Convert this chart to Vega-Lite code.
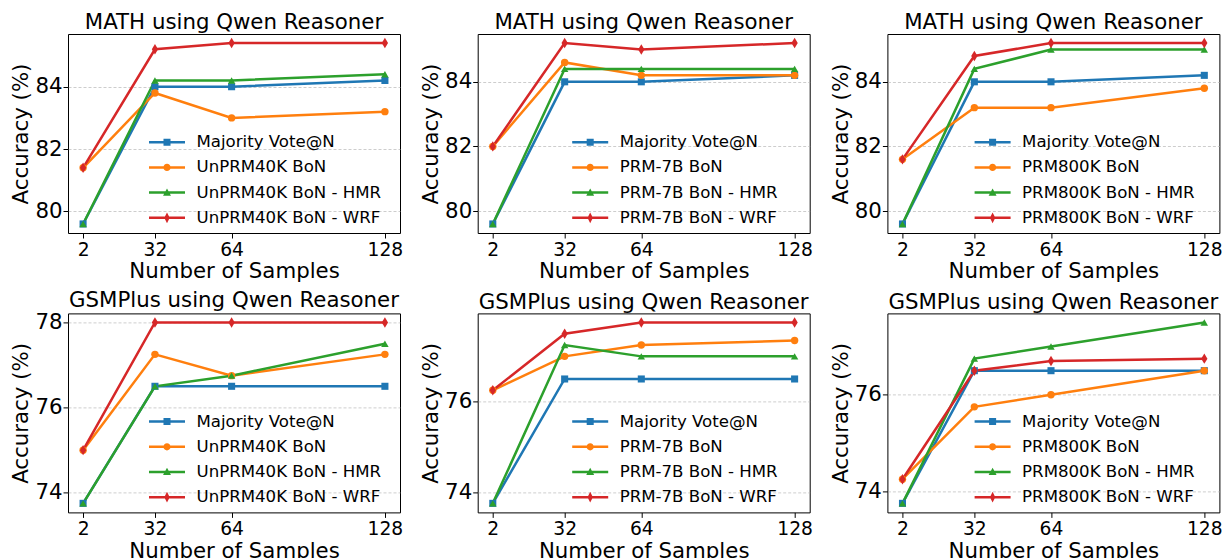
{
  "$schema": "https://vega.github.io/schema/vega-lite/v6.json",
  "background": "white",
  "padding": {"left": 10, "top": 11, "right": 0, "bottom": 0},
  "columns": 3,
  "bounds": "flush",
  "align": "all",
  "spacing": {"row": 80.4, "column": 77.7},
  "data": {"values": [
    {"p":1,"k":0,"s":"Majority Vote@N","n":2,"v":79.6},{"p":1,"k":0,"s":"Majority Vote@N","n":32,"v":84.0},{"p":1,"k":0,"s":"Majority Vote@N","n":64,"v":84.0},{"p":1,"k":0,"s":"Majority Vote@N","n":128,"v":84.2},
    {"p":1,"k":1,"s":"UnPRM40K BoN","n":2,"v":81.4},{"p":1,"k":1,"s":"UnPRM40K BoN","n":32,"v":83.8},{"p":1,"k":1,"s":"UnPRM40K BoN","n":64,"v":83.0},{"p":1,"k":1,"s":"UnPRM40K BoN","n":128,"v":83.2},
    {"p":1,"k":2,"s":"UnPRM40K BoN - HMR","n":2,"v":79.6},{"p":1,"k":2,"s":"UnPRM40K BoN - HMR","n":32,"v":84.2},{"p":1,"k":2,"s":"UnPRM40K BoN - HMR","n":64,"v":84.2},{"p":1,"k":2,"s":"UnPRM40K BoN - HMR","n":128,"v":84.4},
    {"p":1,"k":3,"s":"UnPRM40K BoN - WRF","n":2,"v":81.4},{"p":1,"k":3,"s":"UnPRM40K BoN - WRF","n":32,"v":85.2},{"p":1,"k":3,"s":"UnPRM40K BoN - WRF","n":64,"v":85.4},{"p":1,"k":3,"s":"UnPRM40K BoN - WRF","n":128,"v":85.4},

    {"p":2,"k":0,"s":"Majority Vote@N","n":2,"v":79.6},{"p":2,"k":0,"s":"Majority Vote@N","n":32,"v":84.0},{"p":2,"k":0,"s":"Majority Vote@N","n":64,"v":84.0},{"p":2,"k":0,"s":"Majority Vote@N","n":128,"v":84.2},
    {"p":2,"k":1,"s":"PRM-7B BoN","n":2,"v":82.0},{"p":2,"k":1,"s":"PRM-7B BoN","n":32,"v":84.6},{"p":2,"k":1,"s":"PRM-7B BoN","n":64,"v":84.2},{"p":2,"k":1,"s":"PRM-7B BoN","n":128,"v":84.2},
    {"p":2,"k":2,"s":"PRM-7B BoN - HMR","n":2,"v":79.6},{"p":2,"k":2,"s":"PRM-7B BoN - HMR","n":32,"v":84.4},{"p":2,"k":2,"s":"PRM-7B BoN - HMR","n":64,"v":84.4},{"p":2,"k":2,"s":"PRM-7B BoN - HMR","n":128,"v":84.4},
    {"p":2,"k":3,"s":"PRM-7B BoN - WRF","n":2,"v":82.0},{"p":2,"k":3,"s":"PRM-7B BoN - WRF","n":32,"v":85.2},{"p":2,"k":3,"s":"PRM-7B BoN - WRF","n":64,"v":85.0},{"p":2,"k":3,"s":"PRM-7B BoN - WRF","n":128,"v":85.2},

    {"p":3,"k":0,"s":"Majority Vote@N","n":2,"v":79.6},{"p":3,"k":0,"s":"Majority Vote@N","n":32,"v":84.0},{"p":3,"k":0,"s":"Majority Vote@N","n":64,"v":84.0},{"p":3,"k":0,"s":"Majority Vote@N","n":128,"v":84.2},
    {"p":3,"k":1,"s":"PRM800K BoN","n":2,"v":81.6},{"p":3,"k":1,"s":"PRM800K BoN","n":32,"v":83.2},{"p":3,"k":1,"s":"PRM800K BoN","n":64,"v":83.2},{"p":3,"k":1,"s":"PRM800K BoN","n":128,"v":83.8},
    {"p":3,"k":2,"s":"PRM800K BoN - HMR","n":2,"v":79.6},{"p":3,"k":2,"s":"PRM800K BoN - HMR","n":32,"v":84.4},{"p":3,"k":2,"s":"PRM800K BoN - HMR","n":64,"v":85.0},{"p":3,"k":2,"s":"PRM800K BoN - HMR","n":128,"v":85.0},
    {"p":3,"k":3,"s":"PRM800K BoN - WRF","n":2,"v":81.6},{"p":3,"k":3,"s":"PRM800K BoN - WRF","n":32,"v":84.8},{"p":3,"k":3,"s":"PRM800K BoN - WRF","n":64,"v":85.2},{"p":3,"k":3,"s":"PRM800K BoN - WRF","n":128,"v":85.2},

    {"p":4,"k":0,"s":"Majority Vote@N","n":2,"v":73.75},{"p":4,"k":0,"s":"Majority Vote@N","n":32,"v":76.5},{"p":4,"k":0,"s":"Majority Vote@N","n":64,"v":76.5},{"p":4,"k":0,"s":"Majority Vote@N","n":128,"v":76.5},
    {"p":4,"k":1,"s":"UnPRM40K BoN","n":2,"v":75.0},{"p":4,"k":1,"s":"UnPRM40K BoN","n":32,"v":77.25},{"p":4,"k":1,"s":"UnPRM40K BoN","n":64,"v":76.75},{"p":4,"k":1,"s":"UnPRM40K BoN","n":128,"v":77.25},
    {"p":4,"k":2,"s":"UnPRM40K BoN - HMR","n":2,"v":73.75},{"p":4,"k":2,"s":"UnPRM40K BoN - HMR","n":32,"v":76.5},{"p":4,"k":2,"s":"UnPRM40K BoN - HMR","n":64,"v":76.75},{"p":4,"k":2,"s":"UnPRM40K BoN - HMR","n":128,"v":77.5},
    {"p":4,"k":3,"s":"UnPRM40K BoN - WRF","n":2,"v":75.0},{"p":4,"k":3,"s":"UnPRM40K BoN - WRF","n":32,"v":78.0},{"p":4,"k":3,"s":"UnPRM40K BoN - WRF","n":64,"v":78.0},{"p":4,"k":3,"s":"UnPRM40K BoN - WRF","n":128,"v":78.0},

    {"p":5,"k":0,"s":"Majority Vote@N","n":2,"v":73.75},{"p":5,"k":0,"s":"Majority Vote@N","n":32,"v":76.5},{"p":5,"k":0,"s":"Majority Vote@N","n":64,"v":76.5},{"p":5,"k":0,"s":"Majority Vote@N","n":128,"v":76.5},
    {"p":5,"k":1,"s":"PRM-7B BoN","n":2,"v":76.25},{"p":5,"k":1,"s":"PRM-7B BoN","n":32,"v":77.0},{"p":5,"k":1,"s":"PRM-7B BoN","n":64,"v":77.25},{"p":5,"k":1,"s":"PRM-7B BoN","n":128,"v":77.35},
    {"p":5,"k":2,"s":"PRM-7B BoN - HMR","n":2,"v":73.75},{"p":5,"k":2,"s":"PRM-7B BoN - HMR","n":32,"v":77.25},{"p":5,"k":2,"s":"PRM-7B BoN - HMR","n":64,"v":77.0},{"p":5,"k":2,"s":"PRM-7B BoN - HMR","n":128,"v":77.0},
    {"p":5,"k":3,"s":"PRM-7B BoN - WRF","n":2,"v":76.25},{"p":5,"k":3,"s":"PRM-7B BoN - WRF","n":32,"v":77.5},{"p":5,"k":3,"s":"PRM-7B BoN - WRF","n":64,"v":77.75},{"p":5,"k":3,"s":"PRM-7B BoN - WRF","n":128,"v":77.75},

    {"p":6,"k":0,"s":"Majority Vote@N","n":2,"v":73.75},{"p":6,"k":0,"s":"Majority Vote@N","n":32,"v":76.5},{"p":6,"k":0,"s":"Majority Vote@N","n":64,"v":76.5},{"p":6,"k":0,"s":"Majority Vote@N","n":128,"v":76.5},
    {"p":6,"k":1,"s":"PRM800K BoN","n":2,"v":74.25},{"p":6,"k":1,"s":"PRM800K BoN","n":32,"v":75.75},{"p":6,"k":1,"s":"PRM800K BoN","n":64,"v":76.0},{"p":6,"k":1,"s":"PRM800K BoN","n":128,"v":76.5},
    {"p":6,"k":2,"s":"PRM800K BoN - HMR","n":2,"v":73.75},{"p":6,"k":2,"s":"PRM800K BoN - HMR","n":32,"v":76.75},{"p":6,"k":2,"s":"PRM800K BoN - HMR","n":64,"v":77.0},{"p":6,"k":2,"s":"PRM800K BoN - HMR","n":128,"v":77.5},
    {"p":6,"k":3,"s":"PRM800K BoN - WRF","n":2,"v":74.25},{"p":6,"k":3,"s":"PRM800K BoN - WRF","n":32,"v":76.5},{"p":6,"k":3,"s":"PRM800K BoN - WRF","n":64,"v":76.7},{"p":6,"k":3,"s":"PRM800K BoN - WRF","n":128,"v":76.75}
  ]},
  "concat": [
    {
      "title": "MATH using Qwen Reasoner",
      "width": 332, "height": 199,
      "transform": [{"filter": "datum.p == 1"}],
      "encoding": {
        "x": {"field": "n", "type": "quantitative", "scale": {"domain": [-4.3, 134.3], "nice": false, "zero": false}, "axis": {"values": [2, 32, 64, 128], "title": "Number of Samples", "grid": false}},
        "y": {"field": "v", "type": "quantitative", "scale": {"domain": [79.31, 85.69], "nice": false, "zero": false}, "axis": {"values": [80, 82, 84], "title": "Accuracy (%)"}},
        "color": {"field": "s", "type": "nominal", "scale": {"domain": ["Majority Vote@N", "UnPRM40K BoN", "UnPRM40K BoN - HMR", "UnPRM40K BoN - WRF"], "range": ["#1f77b4", "#ff7f0e", "#2ca02c", "#d62728"]}, "legend": {"legendX": 84, "legendY": 93.2}}
      },
      "layer": [
        {"mark": {"type": "line", "strokeWidth": 2.5}},
        {"transform": [{"filter": "datum.k == 0"}], "mark": {"type": "point", "filled": true, "opacity": 1, "size": 50, "shape": "square"}},
        {"transform": [{"filter": "datum.k == 1"}], "mark": {"type": "point", "filled": true, "opacity": 1, "size": 55, "shape": "circle"}},
        {"transform": [{"filter": "datum.k == 2"}], "mark": {"type": "point", "filled": true, "opacity": 1, "size": 55, "shape": "triangle-up"}},
        {"transform": [{"filter": "datum.k == 3"}], "mark": {"type": "point", "filled": true, "opacity": 1, "size": 55, "shape": "M0,-1.4L0.85,0L0,1.4L-0.85,0Z"}},
        {"mark": {"type": "point", "filled": true, "opacity": 0},
         "encoding": {"shape": {"field": "s", "type": "nominal", "scale": {"domain": ["Majority Vote@N", "UnPRM40K BoN", "UnPRM40K BoN - HMR", "UnPRM40K BoN - WRF"], "range": ["M-1.2,-0.084H1.2V0.084H-1.2ZM-0.234,-0.234H0.234V0.234H-0.234Z", "M-1.2,-0.084H1.2V0.084H-1.2ZM0.24,0A0.24,0.24,0,1,1,-0.24,0A0.24,0.24,0,1,1,0.24,0Z", "M-1.2,-0.084H1.2V0.084H-1.2ZM0,-0.276L0.264,0.204H-0.264Z", "M-1.2,-0.084H1.2V0.084H-1.2ZM0,-0.36L0.18,0L0,0.36L-0.18,0Z"]}}}}
      ]
    },
    {
      "title": "MATH using Qwen Reasoner",
      "width": 332, "height": 199,
      "transform": [{"filter": "datum.p == 2"}],
      "encoding": {
        "x": {"field": "n", "type": "quantitative", "scale": {"domain": [-4.3, 134.3], "nice": false, "zero": false}, "axis": {"values": [2, 32, 64, 128], "title": "Number of Samples", "grid": false}},
        "y": {"field": "v", "type": "quantitative", "scale": {"domain": [79.32, 85.48], "nice": false, "zero": false}, "axis": {"values": [80, 82, 84], "title": "Accuracy (%)"}},
        "color": {"field": "s", "type": "nominal", "scale": {"domain": ["Majority Vote@N", "PRM-7B BoN", "PRM-7B BoN - HMR", "PRM-7B BoN - WRF"], "range": ["#1f77b4", "#ff7f0e", "#2ca02c", "#d62728"]}, "legend": {"legendX": 97.5, "legendY": 93.2}}
      },
      "layer": [
        {"mark": {"type": "line", "strokeWidth": 2.5}},
        {"transform": [{"filter": "datum.k == 0"}], "mark": {"type": "point", "filled": true, "opacity": 1, "size": 50, "shape": "square"}},
        {"transform": [{"filter": "datum.k == 1"}], "mark": {"type": "point", "filled": true, "opacity": 1, "size": 55, "shape": "circle"}},
        {"transform": [{"filter": "datum.k == 2"}], "mark": {"type": "point", "filled": true, "opacity": 1, "size": 55, "shape": "triangle-up"}},
        {"transform": [{"filter": "datum.k == 3"}], "mark": {"type": "point", "filled": true, "opacity": 1, "size": 55, "shape": "M0,-1.4L0.85,0L0,1.4L-0.85,0Z"}},
        {"mark": {"type": "point", "filled": true, "opacity": 0},
         "encoding": {"shape": {"field": "s", "type": "nominal", "scale": {"domain": ["Majority Vote@N", "PRM-7B BoN", "PRM-7B BoN - HMR", "PRM-7B BoN - WRF"], "range": ["M-1.2,-0.084H1.2V0.084H-1.2ZM-0.234,-0.234H0.234V0.234H-0.234Z", "M-1.2,-0.084H1.2V0.084H-1.2ZM0.24,0A0.24,0.24,0,1,1,-0.24,0A0.24,0.24,0,1,1,0.24,0Z", "M-1.2,-0.084H1.2V0.084H-1.2ZM0,-0.276L0.264,0.204H-0.264Z", "M-1.2,-0.084H1.2V0.084H-1.2ZM0,-0.36L0.18,0L0,0.36L-0.18,0Z"]}}}}
      ]
    },
    {
      "title": "MATH using Qwen Reasoner",
      "width": 332, "height": 199,
      "transform": [{"filter": "datum.p == 3"}],
      "encoding": {
        "x": {"field": "n", "type": "quantitative", "scale": {"domain": [-4.3, 134.3], "nice": false, "zero": false}, "axis": {"values": [2, 32, 64, 128], "title": "Number of Samples", "grid": false}},
        "y": {"field": "v", "type": "quantitative", "scale": {"domain": [79.32, 85.48], "nice": false, "zero": false}, "axis": {"values": [80, 82, 84], "title": "Accuracy (%)"}},
        "color": {"field": "s", "type": "nominal", "scale": {"domain": ["Majority Vote@N", "PRM800K BoN", "PRM800K BoN - HMR", "PRM800K BoN - WRF"], "range": ["#1f77b4", "#ff7f0e", "#2ca02c", "#d62728"]}, "legend": {"legendX": 90.2, "legendY": 93.2}}
      },
      "layer": [
        {"mark": {"type": "line", "strokeWidth": 2.5}},
        {"transform": [{"filter": "datum.k == 0"}], "mark": {"type": "point", "filled": true, "opacity": 1, "size": 50, "shape": "square"}},
        {"transform": [{"filter": "datum.k == 1"}], "mark": {"type": "point", "filled": true, "opacity": 1, "size": 55, "shape": "circle"}},
        {"transform": [{"filter": "datum.k == 2"}], "mark": {"type": "point", "filled": true, "opacity": 1, "size": 55, "shape": "triangle-up"}},
        {"transform": [{"filter": "datum.k == 3"}], "mark": {"type": "point", "filled": true, "opacity": 1, "size": 55, "shape": "M0,-1.4L0.85,0L0,1.4L-0.85,0Z"}},
        {"mark": {"type": "point", "filled": true, "opacity": 0},
         "encoding": {"shape": {"field": "s", "type": "nominal", "scale": {"domain": ["Majority Vote@N", "PRM800K BoN", "PRM800K BoN - HMR", "PRM800K BoN - WRF"], "range": ["M-1.2,-0.084H1.2V0.084H-1.2ZM-0.234,-0.234H0.234V0.234H-0.234Z", "M-1.2,-0.084H1.2V0.084H-1.2ZM0.24,0A0.24,0.24,0,1,1,-0.24,0A0.24,0.24,0,1,1,0.24,0Z", "M-1.2,-0.084H1.2V0.084H-1.2ZM0,-0.276L0.264,0.204H-0.264Z", "M-1.2,-0.084H1.2V0.084H-1.2ZM0,-0.36L0.18,0L0,0.36L-0.18,0Z"]}}}}
      ]
    },
    {
      "title": "GSMPlus using Qwen Reasoner",
      "width": 332, "height": 199,
      "transform": [{"filter": "datum.p == 4"}],
      "encoding": {
        "x": {"field": "n", "type": "quantitative", "scale": {"domain": [-4.3, 134.3], "nice": false, "zero": false}, "axis": {"values": [2, 32, 64, 128], "title": "Number of Samples", "grid": false}},
        "y": {"field": "v", "type": "quantitative", "scale": {"domain": [73.5375, 78.2125], "nice": false, "zero": false}, "axis": {"values": [74, 76, 78], "title": "Accuracy (%)"}},
        "color": {"field": "s", "type": "nominal", "scale": {"domain": ["Majority Vote@N", "UnPRM40K BoN", "UnPRM40K BoN - HMR", "UnPRM40K BoN - WRF"], "range": ["#1f77b4", "#ff7f0e", "#2ca02c", "#d62728"]}, "legend": {"legendX": 84, "legendY": 93.2}}
      },
      "layer": [
        {"mark": {"type": "line", "strokeWidth": 2.5}},
        {"transform": [{"filter": "datum.k == 0"}], "mark": {"type": "point", "filled": true, "opacity": 1, "size": 50, "shape": "square"}},
        {"transform": [{"filter": "datum.k == 1"}], "mark": {"type": "point", "filled": true, "opacity": 1, "size": 55, "shape": "circle"}},
        {"transform": [{"filter": "datum.k == 2"}], "mark": {"type": "point", "filled": true, "opacity": 1, "size": 55, "shape": "triangle-up"}},
        {"transform": [{"filter": "datum.k == 3"}], "mark": {"type": "point", "filled": true, "opacity": 1, "size": 55, "shape": "M0,-1.4L0.85,0L0,1.4L-0.85,0Z"}},
        {"mark": {"type": "point", "filled": true, "opacity": 0},
         "encoding": {"shape": {"field": "s", "type": "nominal", "scale": {"domain": ["Majority Vote@N", "UnPRM40K BoN", "UnPRM40K BoN - HMR", "UnPRM40K BoN - WRF"], "range": ["M-1.2,-0.084H1.2V0.084H-1.2ZM-0.234,-0.234H0.234V0.234H-0.234Z", "M-1.2,-0.084H1.2V0.084H-1.2ZM0.24,0A0.24,0.24,0,1,1,-0.24,0A0.24,0.24,0,1,1,0.24,0Z", "M-1.2,-0.084H1.2V0.084H-1.2ZM0,-0.276L0.264,0.204H-0.264Z", "M-1.2,-0.084H1.2V0.084H-1.2ZM0,-0.36L0.18,0L0,0.36L-0.18,0Z"]}}}}
      ]
    },
    {
      "title": "GSMPlus using Qwen Reasoner",
      "width": 332, "height": 199,
      "transform": [{"filter": "datum.p == 5"}],
      "encoding": {
        "x": {"field": "n", "type": "quantitative", "scale": {"domain": [-4.3, 134.3], "nice": false, "zero": false}, "axis": {"values": [2, 32, 64, 128], "title": "Number of Samples", "grid": false}},
        "y": {"field": "v", "type": "quantitative", "scale": {"domain": [73.55, 77.95], "nice": false, "zero": false}, "axis": {"values": [74, 76], "title": "Accuracy (%)"}},
        "color": {"field": "s", "type": "nominal", "scale": {"domain": ["Majority Vote@N", "PRM-7B BoN", "PRM-7B BoN - HMR", "PRM-7B BoN - WRF"], "range": ["#1f77b4", "#ff7f0e", "#2ca02c", "#d62728"]}, "legend": {"legendX": 97.5, "legendY": 93.2}}
      },
      "layer": [
        {"mark": {"type": "line", "strokeWidth": 2.5}},
        {"transform": [{"filter": "datum.k == 0"}], "mark": {"type": "point", "filled": true, "opacity": 1, "size": 50, "shape": "square"}},
        {"transform": [{"filter": "datum.k == 1"}], "mark": {"type": "point", "filled": true, "opacity": 1, "size": 55, "shape": "circle"}},
        {"transform": [{"filter": "datum.k == 2"}], "mark": {"type": "point", "filled": true, "opacity": 1, "size": 55, "shape": "triangle-up"}},
        {"transform": [{"filter": "datum.k == 3"}], "mark": {"type": "point", "filled": true, "opacity": 1, "size": 55, "shape": "M0,-1.4L0.85,0L0,1.4L-0.85,0Z"}},
        {"mark": {"type": "point", "filled": true, "opacity": 0},
         "encoding": {"shape": {"field": "s", "type": "nominal", "scale": {"domain": ["Majority Vote@N", "PRM-7B BoN", "PRM-7B BoN - HMR", "PRM-7B BoN - WRF"], "range": ["M-1.2,-0.084H1.2V0.084H-1.2ZM-0.234,-0.234H0.234V0.234H-0.234Z", "M-1.2,-0.084H1.2V0.084H-1.2ZM0.24,0A0.24,0.24,0,1,1,-0.24,0A0.24,0.24,0,1,1,0.24,0Z", "M-1.2,-0.084H1.2V0.084H-1.2ZM0,-0.276L0.264,0.204H-0.264Z", "M-1.2,-0.084H1.2V0.084H-1.2ZM0,-0.36L0.18,0L0,0.36L-0.18,0Z"]}}}}
      ]
    },
    {
      "title": "GSMPlus using Qwen Reasoner",
      "width": 332, "height": 199,
      "transform": [{"filter": "datum.p == 6"}],
      "encoding": {
        "x": {"field": "n", "type": "quantitative", "scale": {"domain": [-4.3, 134.3], "nice": false, "zero": false}, "axis": {"values": [2, 32, 64, 128], "title": "Number of Samples", "grid": false}},
        "y": {"field": "v", "type": "quantitative", "scale": {"domain": [73.5625, 77.6875], "nice": false, "zero": false}, "axis": {"values": [74, 76], "title": "Accuracy (%)"}},
        "color": {"field": "s", "type": "nominal", "scale": {"domain": ["Majority Vote@N", "PRM800K BoN", "PRM800K BoN - HMR", "PRM800K BoN - WRF"], "range": ["#1f77b4", "#ff7f0e", "#2ca02c", "#d62728"]}, "legend": {"legendX": 90.2, "legendY": 93.2}}
      },
      "layer": [
        {"mark": {"type": "line", "strokeWidth": 2.5}},
        {"transform": [{"filter": "datum.k == 0"}], "mark": {"type": "point", "filled": true, "opacity": 1, "size": 50, "shape": "square"}},
        {"transform": [{"filter": "datum.k == 1"}], "mark": {"type": "point", "filled": true, "opacity": 1, "size": 55, "shape": "circle"}},
        {"transform": [{"filter": "datum.k == 2"}], "mark": {"type": "point", "filled": true, "opacity": 1, "size": 55, "shape": "triangle-up"}},
        {"transform": [{"filter": "datum.k == 3"}], "mark": {"type": "point", "filled": true, "opacity": 1, "size": 55, "shape": "M0,-1.4L0.85,0L0,1.4L-0.85,0Z"}},
        {"mark": {"type": "point", "filled": true, "opacity": 0},
         "encoding": {"shape": {"field": "s", "type": "nominal", "scale": {"domain": ["Majority Vote@N", "PRM800K BoN", "PRM800K BoN - HMR", "PRM800K BoN - WRF"], "range": ["M-1.2,-0.084H1.2V0.084H-1.2ZM-0.234,-0.234H0.234V0.234H-0.234Z", "M-1.2,-0.084H1.2V0.084H-1.2ZM0.24,0A0.24,0.24,0,1,1,-0.24,0A0.24,0.24,0,1,1,0.24,0Z", "M-1.2,-0.084H1.2V0.084H-1.2ZM0,-0.276L0.264,0.204H-0.264Z", "M-1.2,-0.084H1.2V0.084H-1.2ZM0,-0.36L0.18,0L0,0.36L-0.18,0Z"]}}}}
      ]
    }
  ],
  "resolve": {"scale": {"color": "independent", "shape": "independent", "x": "independent", "y": "independent"}, "legend": {"color": "independent", "shape": "independent"}},
  "config": {
    "font": "DejaVu Sans",
    "view": {"stroke": "black", "strokeWidth": 1},
    "title": {"fontSize": 21.3, "fontWeight": "normal", "color": "black", "offset": 0.4, "anchor": "middle"},
    "axis": {"domain": false, "ticks": true, "tickColor": "black", "tickSize": 5, "tickWidth": 1, "labelColor": "black", "titleColor": "black", "titleFontWeight": "normal", "titleFontSize": 21.3, "gridDash": [3, 2], "gridColor": "#b0b0b0", "gridWidth": 0.8, "gridOpacity": 0.8},
    "axisX": {"labelFontSize": 18.7, "labelPadding": 2, "titlePadding": 2, "labelFlush": false},
    "axisY": {"labelFontSize": 21.3, "labelPadding": 1, "titlePadding": 3, "grid": true},
    "legend": {
      "orient": "none", "title": null, "padding": 0, "labelFontSize": 16.6, "labelColor": "black", "labelLimit": 0,
      "symbolSize": 900, "symbolStrokeWidth": 0, "symbolOpacity": 1, "rowPadding": 1.2, "labelOffset": 14.5, "symbolOffset": 0
    }
  }
}
